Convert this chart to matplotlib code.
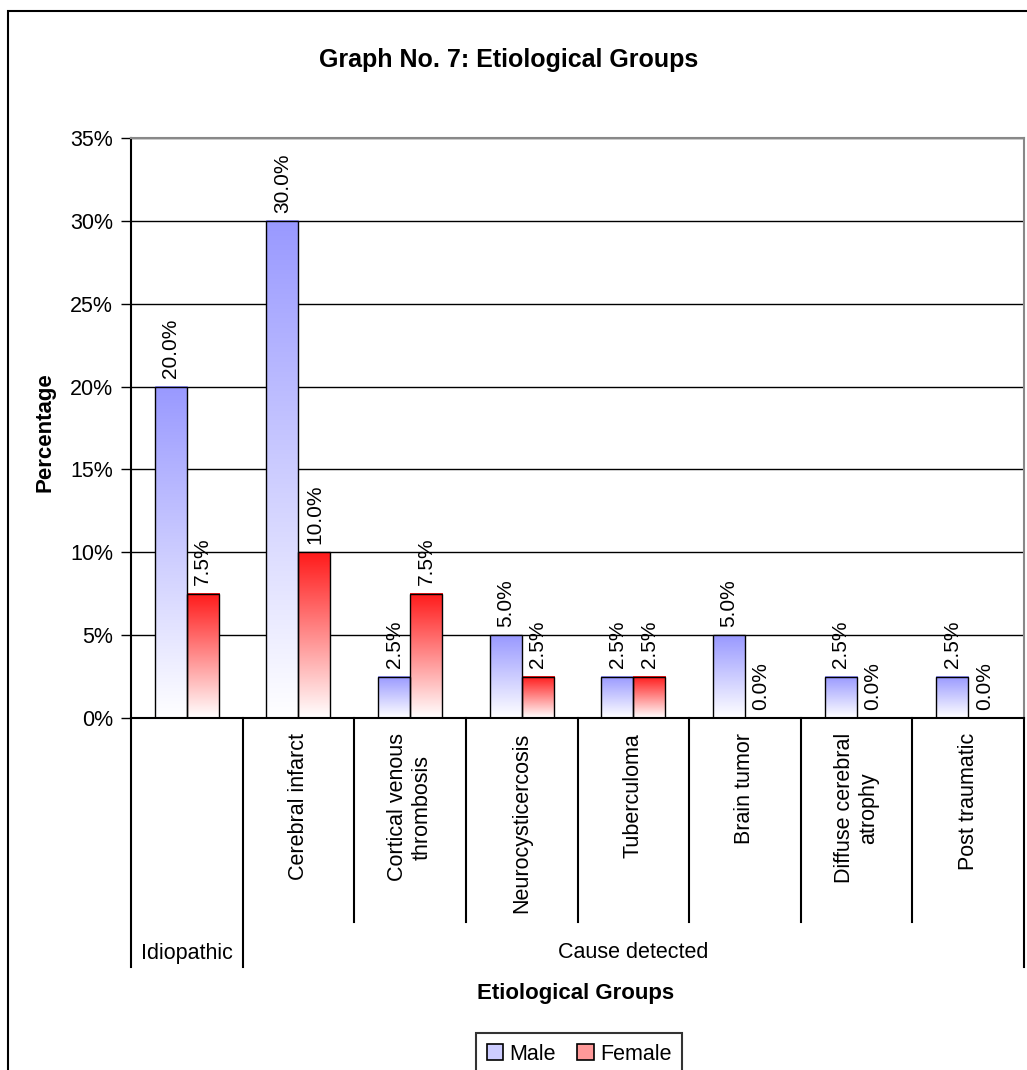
import matplotlib
matplotlib.use('Agg')
import matplotlib.pyplot as plt
import numpy as np
from matplotlib.colors import LinearSegmentedColormap
from matplotlib.patches import Patch, Rectangle
from matplotlib.ticker import FuncFormatter

plt.rcParams['font.family'] = ['Liberation Sans', 'DejaVu Sans']

# data
categories = ['', 'Cerebral infarct', 'Cortical venous\nthrombosis', 'Neurocysticercosis',
              'Tuberculoma', 'Brain tumor', 'Diffuse cerebral\natrophy', 'Post traumatic']
groups = ['Idiopathic', 'Cause detected']
group_spans = [(0, 0), (1, 7)]
male = [20.0, 30.0, 2.5, 5.0, 2.5, 5.0, 2.5, 2.5]
female = [7.5, 10.0, 7.5, 2.5, 2.5, 0.0, 0.0, 0.0]
series = ['Male', 'Female']
colors = ['#9999ff', '#ff1a1a']
light_colors = ['#ccccff', '#ff9999']

W, H = 1027, 1070
fig = plt.figure(figsize=(W / 100, H / 100), dpi=100)
ax = fig.add_axes([131 / W, 1 - 718 / H, (1024 - 131) / W, (718 - 138) / H])

x = np.arange(len(categories))
bw = 0.287
grad = np.linspace(0, 1, 256).reshape(-1, 1)

for vals, col, off in [(male, colors[0], -bw / 2), (female, colors[1], bw / 2)]:
    cmap = LinearSegmentedColormap.from_list('g', ['white', col])
    for xi, v in zip(x, vals):
        if v > 0:
            ax.imshow(grad, extent=[xi + off - bw / 2, xi + off + bw / 2, 0, v],
                      origin='lower', aspect='auto', cmap=cmap, zorder=2)
    ax.bar(x + off, vals, bw, fill=False, edgecolor='black', linewidth=1, zorder=3)
    for xi, v in zip(x, vals):
        ax.annotate(f'{v:.1f}%', (xi + off, v), xytext=(0, 6), textcoords='offset points',
                    rotation=90, ha='center', va='bottom', fontsize=15)

ax.set_xlim(-0.5, len(categories) - 0.5)
ax.set_ylim(0, 35)
ax.set_yticks(np.arange(0, 36, 5))
ax.yaxis.set_major_formatter(FuncFormatter(lambda v, p: f'{int(v)}%'))
ax.tick_params(axis='y', direction='out', length=7, width=1, labelsize=15.5, pad=6)
ax.tick_params(axis='x', bottom=False, labelbottom=False)
ax.yaxis.grid(True, color='black', linewidth=1)
ax.set_axisbelow(True)
for s in ['top', 'right']:
    ax.spines[s].set_color('#888888')
    ax.spines[s].set_linewidth(1.5)
for s in ['left', 'bottom']:
    ax.spines[s].set_linewidth(1.5)

# category labels and hierarchical axis lines
tr = ax.get_xaxis_transform()
ax_h = 718 - 138
inner_y = -(922 - 718) / ax_h
outer_y = -(967 - 718) / ax_h
for i, lab in enumerate(categories):
    ax.text(i, -(733 - 718) / ax_h, lab, transform=tr, rotation=90, ha='center', va='top',
            multialignment='center', fontsize=15.5)
bounds = [i - 0.5 for i in range(len(categories) + 1)]
group_edges = [s for s, e in group_spans] + [group_spans[-1][1] + 1]
for b in bounds:
    is_outer = (b + 0.5) in group_edges
    ax.plot([b, b], [0, outer_y if is_outer else inner_y], transform=tr, color='black',
            linewidth=1.5, clip_on=False)
for g, (s, e) in zip(groups, group_spans):
    ax.text((s + e) / 2, -(953 - 718) / ax_h, g, transform=tr, ha='center', va='center',
            fontsize=15.5)

fig.text(509 / W, 1 - 60 / H, 'Graph No. 7: Etiological Groups', ha='center', va='center',
         fontsize=18, fontweight='bold')
fig.text(45 / W, 1 - 432 / H, 'Percentage', rotation=90, ha='center', va='center',
         fontsize=16, fontweight='bold')
fig.text(576 / W, 1 - 993 / H, 'Etiological Groups', ha='center', va='center',
         fontsize=16, fontweight='bold')

handles = [Patch(facecolor=c, edgecolor='black', linewidth=1.2) for c in light_colors]
leg = fig.legend(handles, series, loc='upper left', bbox_to_anchor=(476 / W, 1 - 1033 / H),
                 ncol=2, fontsize=15.5, frameon=True, fancybox=False, borderaxespad=0,
                 handlelength=0.75, handleheight=0.75, handletextpad=0.3,
                 columnspacing=1.0, borderpad=0.5)
leg.get_frame().set_edgecolor('black')
leg.get_frame().set_linewidth(1.5)

fig.add_artist(Rectangle((8 / W, -0.1), 1.2, 1.1 - 11 / H, transform=fig.transFigure,
                         fill=False, edgecolor='black', linewidth=1.5))

fig.savefig('out.png', dpi=100)
